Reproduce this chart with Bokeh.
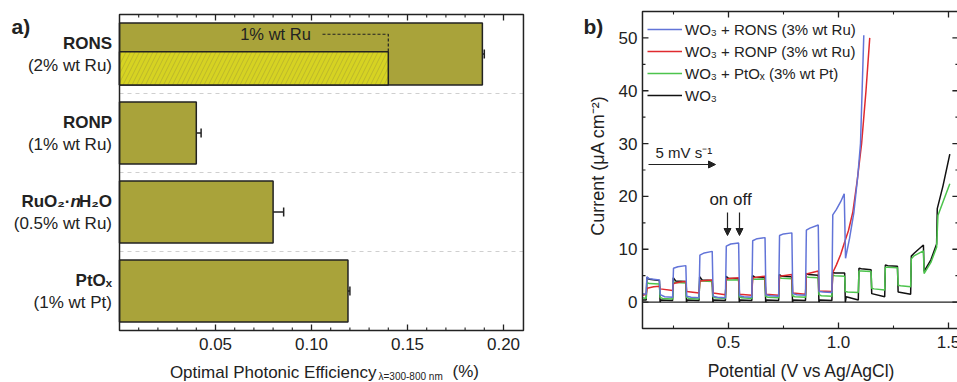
from bokeh.plotting import figure
from bokeh.layouts import row
from bokeh.models import (Range1d, Label, Whisker, ColumnDataSource, TeeHead, Arrow,
                          NormalHead, Legend, LegendItem)
from bokeh.embed import file_html
from bokeh.resources import INLINE
from bokeh.core.properties import value

FONT = "Liberation Sans"
INK = "#222222"

# ---------------- Panel a data ----------------
categories = ["RONS", "RONP", "RuO₂·nH₂O", "PtOₓ"]
loadings = ["(2% wt Ru)", "(1% wt Ru)", "(0.5% wt Ru)", "(1% wt Pt)"]
efficiency = [0.189, 0.040, 0.080, 0.119]
eff_error = [0.001, 0.0025, 0.0055, 0.001]
rons_1pct = 0.140
a_ticks = [0.05, 0.10, 0.15, 0.20]
a_tick_labels = ["0.05", "0.10", "0.15", "0.20"]
a_minor = [0.01, 0.02, 0.03, 0.04, 0.06, 0.07, 0.08, 0.09, 0.11, 0.12, 0.13,
           0.14, 0.16, 0.17, 0.18, 0.19]

# ---------------- Panel b data ----------------
b_xticks = [0.5, 1.0, 1.5]
b_xtick_labels = ["0.5", "1.0", "1.5"]
b_xminor = [0.25, 0.75, 1.25]
b_yticks = [0, 10, 20, 30, 40, 50]
b_ytick_labels = ["0", "10", "20", "30", "40", "50"]
b_yminor = [-5, 5, 15, 25, 35, 45, 55]

rons_v = [0.109, 0.126, 0.129, 0.140, 0.186, 0.190, 0.210, 0.246,
          0.250, 0.270, 0.306, 0.310, 0.330, 0.366,
          0.370, 0.390, 0.426, 0.430, 0.450, 0.486,
          0.490, 0.510, 0.546, 0.550, 0.570, 0.606,
          0.610, 0.630, 0.666, 0.670, 0.690, 0.728,
          0.732, 0.750, 0.788, 0.792, 0.810, 0.850,
          0.854, 0.870, 0.908, 0.912, 0.930, 0.970,
          0.974, 0.990, 1.010, 1.026, 1.032, 1.050, 1.070, 1.088, 1.100, 1.115]
rons_i = [1.6, 1.5, 4.8, 4.4, 4.2, 1.4, 1.0, 0.9,
          6.4, 6.7, 6.9, 1.1, 0.9, 0.8,
          8.9, 9.3, 9.6, 1.1, 0.9, 0.8,
          10.6, 11.0, 11.2, 1.2, 1.0, 0.9,
          11.6, 12.0, 12.2, 1.4, 1.2, 1.1,
          12.6, 12.9, 13.1, 1.6, 1.4, 1.3,
          13.6, 14.0, 14.6, 2.0, 1.9, 1.8,
          16.5, 17.5, 19.0, 20.5, 8.3, 12.0, 17.0, 24.0, 30.0, 50.5]

ronp_v = [0.109, 0.126, 0.130, 0.160, 0.186, 0.190, 0.246,
          0.250, 0.280, 0.306, 0.310, 0.366,
          0.370, 0.426, 0.430, 0.486,
          0.490, 0.546, 0.550, 0.606,
          0.610, 0.666, 0.670, 0.728,
          0.732, 0.788, 0.792, 0.850,
          0.854, 0.908, 0.912, 0.970,
          0.974, 0.990, 1.010, 1.025, 1.045, 1.065, 1.085, 1.105, 1.125, 1.142]
ronp_i = [1.3, 1.5, 2.6, 2.9, 3.0, 2.5, 2.2,
          3.5, 3.8, 3.9, 2.0, 1.7,
          4.0, 4.2, 1.7, 1.4,
          4.4, 4.6, 1.5, 1.3,
          4.6, 4.9, 1.5, 1.3,
          4.9, 5.2, 1.7, 1.5,
          5.3, 5.9, 2.1, 2.0,
          5.6, 7.0, 9.0, 11.0, 13.5, 17.0, 23.0, 30.0, 40.0, 50.0]

pto_v = [0.109, 0.126, 0.129, 0.140, 0.186, 0.189, 0.200,
         0.246, 0.249, 0.260, 0.306, 0.309, 0.320,
         0.366, 0.369, 0.380, 0.426, 0.429, 0.440,
         0.486, 0.489, 0.500, 0.546, 0.549, 0.560,
         0.606, 0.609, 0.620, 0.666, 0.669, 0.680,
         0.728, 0.731, 0.742, 0.788, 0.791, 0.802,
         0.850, 0.853, 0.864, 0.908, 0.911, 0.922,
         0.970, 0.973, 0.984, 1.028, 1.031, 1.042,
         1.090, 1.093, 1.104, 1.148, 1.151, 1.162,
         1.210, 1.213, 1.224, 1.268, 1.271, 1.282,
         1.328, 1.331, 1.345, 1.386, 1.389, 1.420, 1.446,
         1.452, 1.480, 1.506]
pto_i = [0.8, 0.7, 3.7, 3.5, 3.4, 0.9, 0.7,
         0.6, 3.8, 3.7, 3.6, 0.9, 0.7,
         0.6, 4.0, 4.0, 3.9, 1.0, 0.8,
         0.7, 4.3, 4.2, 4.2, 1.0, 0.8,
         0.7, 4.4, 4.3, 4.3, 1.1, 0.9,
         0.8, 4.6, 4.5, 4.4, 1.2, 1.0,
         0.9, 4.8, 4.7, 4.6, 1.4, 1.2,
         1.1, 5.1, 5.0, 4.9, 2.0, 1.9,
         1.8, 5.9, 5.9, 5.8, 2.6, 2.5,
         2.3, 6.6, 6.6, 6.5, 3.2, 3.1,
         2.9, 8.2, 8.8, 9.7, 5.4, 7.5, 10.4,
         16.4, 19.5, 22.4]

wo3_v = [0.109, 0.126, 0.129, 0.140, 0.186, 0.189, 0.193,
         0.246, 0.249, 0.260, 0.306, 0.309, 0.313,
         0.366, 0.369, 0.380, 0.426, 0.429, 0.433,
         0.486, 0.489, 0.500, 0.546, 0.549, 0.553,
         0.606, 0.609, 0.620, 0.666, 0.669, 0.673,
         0.728, 0.731, 0.742, 0.788, 0.791, 0.795,
         0.850, 0.853, 0.864, 0.908, 0.911, 0.915,
         0.970, 0.973, 0.984, 1.028, 1.031, 1.035,
         1.090, 1.093, 1.104, 1.148, 1.151, 1.210,
         1.213, 1.224, 1.268, 1.271, 1.328,
         1.331, 1.345, 1.386, 1.389, 1.420, 1.446,
         1.449, 1.475, 1.506]
wo3_i = [0.4, 0.4, 4.7, 4.3, 4.1, 0.0, 0.4,
         0.3, 4.6, 4.0, 3.9, 0.0, 0.4,
         0.3, 4.8, 4.2, 4.1, 0.0, 0.4,
         0.3, 4.9, 4.5, 4.4, 0.0, 0.4,
         0.3, 5.0, 4.7, 4.6, 0.0, 0.4,
         0.3, 5.2, 4.9, 4.8, 0.0, 0.4,
         0.3, 5.4, 5.2, 5.1, 0.0, 0.4,
         0.3, 5.6, 5.5, 5.5, 0.0, 1.0,
         0.4, 6.4, 6.3, 6.1, 1.6, 1.0,
         7.0, 6.9, 6.8, 1.9, 1.5,
         8.7, 9.3, 10.8, 5.8, 8.0, 11.0,
         17.7, 22.0, 28.0]

series_labels = ["WO₃ + RONS (3% wt Ru)", "WO₃ + RONP (3% wt Ru)",
                 "WO₃ + PtOₓ (3% wt Pt)", "WO₃"]
series_colors = ["#6274d8", "#e02a2e", "#4cc44c", "#111111"]

OLIVE = "#a9a33a"
HATCH_FILL = "#d6d322"


def txt(p, x, y, text, size="17px", style="normal", align="left",
        baseline="middle", angle=0.0, color=INK):
    p.add_layout(Label(x=x, y=y, text=text, text_font=FONT, text_font_size=size,
                       text_font_style=style, text_align=align,
                       text_baseline=baseline, angle=angle, text_color=color))


def bare(p):
    p.axis.visible = False
    p.grid.visible = False
    p.outline_line_color = None
    p.background_fill_color = "white"
    p.border_fill_color = "white"


# ====================== Panel a ======================
# pixel <-> data mapping of the plot box (box: x 119..523 px, y 14..330 px)
A_W, A_H = 556, 382
A_XMAX, A_YMAX = 0.2104, 4.0


def a_x(px):
    return (px - 119) / 1920.0


def a_y(py):
    return (330 - py) / 79.0


pa = figure(width=A_W, height=A_H, x_range=Range1d(a_x(0), a_x(A_W)),
            y_range=Range1d(a_y(A_H), a_y(0)), output_backend="svg",
            toolbar_location=None, min_border=0)
bare(pa)

n = len(categories)
ypos = [n - i - 0.5 for i in range(n)]
bar_h = 0.785
sep = list(range(1, n))

pa.segment(x0=[0] * len(sep), y0=sep, x1=[A_XMAX] * len(sep), y1=sep,
           line_color="#cfcfcf", line_dash="4 4", line_width=1)

pa.hbar(y=ypos, left=0, right=efficiency, height=bar_h, fill_color=OLIVE,
        line_color=INK, line_width=1.5)

sub_bottom = ypos[0] - bar_h / 2
sub_top = ypos[0] + 0.03
pa.hbar(y=[(sub_bottom + sub_top) / 2], left=0, right=[rons_1pct],
        height=sub_top - sub_bottom, fill_color=HATCH_FILL, line_color=INK,
        line_width=1.5, hatch_pattern="/", hatch_color="#b5b02c",
        hatch_scale=9, hatch_weight=0.8)

dash_y = ypos[0] + 0.25
pa.line(x=[a_x(322), rons_1pct, rons_1pct], y=[dash_y, dash_y, sub_top],
        line_color=INK, line_width=1.2, line_dash="3 2")
txt(pa, a_x(275), dash_y, "1% wt Ru", size="16.5px", align="center")

err_src = ColumnDataSource(dict(
    y=ypos,
    lo=[e - d for e, d in zip(efficiency, eff_error)],
    hi=[e + d for e, d in zip(efficiency, eff_error)]))
pa.add_layout(Whisker(source=err_src, base="y", lower="lo", upper="hi",
                      dimension="width", line_color=INK, line_width=1.5,
                      upper_head=TeeHead(size=9, line_color=INK, line_width=1.5),
                      lower_head=TeeHead(size=9, line_color=INK, line_width=1.5)))

# plot box with inward ticks (bottom + mirrored top)
pa.quad(left=[0], right=[A_XMAX], bottom=[0], top=[A_YMAX], fill_color=None,
        line_color=INK, line_width=1.5)
mj, mn = 6 / 79.0, 3 / 79.0
pa.segment(x0=a_ticks, y0=[0] * 4, x1=a_ticks, y1=[mj] * 4, line_color=INK, line_width=1.3)
pa.segment(x0=a_ticks, y0=[A_YMAX] * 4, x1=a_ticks, y1=[A_YMAX - mj] * 4,
           line_color=INK, line_width=1.3)
nm = len(a_minor)
pa.segment(x0=a_minor, y0=[0] * nm, x1=a_minor, y1=[mn] * nm, line_color=INK, line_width=1.1)
pa.segment(x0=a_minor, y0=[A_YMAX] * nm, x1=a_minor, y1=[A_YMAX - mn] * nm,
           line_color=INK, line_width=1.1)
pa.text(x=a_ticks, y=[a_y(337)] * 4, text=a_tick_labels, text_font=value(FONT),
        text_font_size="17px", text_align="center", text_baseline="top", text_color=INK)

# category labels
lab_x = a_x(111.5)
for i in range(n):
    yb = ypos[i] + 11 / 79.0
    yl = ypos[i] - 11 / 79.0
    if categories[i] == "RuO₂·nH₂O":
        txt(pa, lab_x, yb, "H₂O", style="bold", align="right")
        txt(pa, a_x(80.5), yb, "n", style="bold italic", align="right")
        txt(pa, a_x(70), yb, "RuO₂·", style="bold", align="right")
    else:
        txt(pa, lab_x, yb, categories[i], style="bold", align="right")
    txt(pa, lab_x, yl, loadings[i], align="right")

txt(pa, a_x(11), a_y(26), "a)", size="21px", style="bold")

# x axis title with subscript
txt(pa, a_x(376), a_y(372), "Optimal Photonic Efficiency", size="17px", align="right")
txt(pa, a_x(378), a_y(376), "λ=300-800 nm", size="10px", align="left")
txt(pa, a_x(452), a_y(371), "(%)", size="17px", align="left")

# ====================== Panel b ======================
# box: x 642..958 px (page), y 11..328 px; figure starts at page x 556
B_W, B_H = 401, 382
B_X0 = 556
B_XMIN, B_XMAX = 0.109, 1.545
B_YMIN, B_YMAX = -5.0, 55.0


def b_x(px):
    return 0.5 + (px - 728) / 220.0


def b_y(py):
    return 55.0 - (py - 11) * 60.0 / 317.0


pb = figure(width=B_W, height=B_H, x_range=Range1d(b_x(B_X0), b_x(B_X0 + B_W)),
            y_range=Range1d(b_y(B_H), b_y(0)), output_backend="svg",
            toolbar_location=None, min_border=0)
bare(pb)

pb.segment(x0=[B_XMIN], y0=[0], x1=[B_XMAX], y1=[0], line_color=INK, line_width=1.3)

xs = [rons_v, ronp_v, pto_v, wo3_v]
ys = [rons_i, ronp_i, pto_i, wo3_i]
renderers = [None] * 4
for k in [3, 2, 1, 0]:
    renderers[k] = pb.line(x=xs[k], y=ys[k], line_color=series_colors[k], line_width=1.5)

pb.quad(left=[B_XMIN], right=[B_XMAX], bottom=[B_YMIN], top=[B_YMAX], fill_color=None,
        line_color=INK, line_width=1.5)
xmj, xmn = 6 * 60.0 / 317.0, 3 * 60.0 / 317.0     # tick lengths along y (data)
ymj, ymn = 6 / 220.0, 3 / 220.0                   # tick lengths along x (data)
k1, k2 = len(b_xticks), len(b_xminor)
pb.segment(x0=b_xticks, y0=[B_YMIN] * k1, x1=b_xticks, y1=[B_YMIN + xmj] * k1,
           line_color=INK, line_width=1.3)
pb.segment(x0=b_xticks, y0=[B_YMAX] * k1, x1=b_xticks, y1=[B_YMAX - xmj] * k1,
           line_color=INK, line_width=1.3)
pb.segment(x0=b_xminor, y0=[B_YMIN] * k2, x1=b_xminor, y1=[B_YMIN + xmn] * k2,
           line_color=INK, line_width=1.1)
pb.segment(x0=b_xminor, y0=[B_YMAX] * k2, x1=b_xminor, y1=[B_YMAX - xmn] * k2,
           line_color=INK, line_width=1.1)
k3, k4 = len(b_yticks), len(b_yminor)
pb.segment(x0=[B_XMIN] * k3, y0=b_yticks, x1=[B_XMIN + ymj] * k3, y1=b_yticks,
           line_color=INK, line_width=1.3)
pb.segment(x0=[B_XMAX] * k3, y0=b_yticks, x1=[B_XMAX - ymj] * k3, y1=b_yticks,
           line_color=INK, line_width=1.3)
pb.segment(x0=[B_XMIN] * k4, y0=b_yminor, x1=[B_XMIN + ymn] * k4, y1=b_yminor,
           line_color=INK, line_width=1.1)
pb.segment(x0=[B_XMAX] * k4, y0=b_yminor, x1=[B_XMAX - ymn] * k4, y1=b_yminor,
           line_color=INK, line_width=1.1)
pb.text(x=b_xticks, y=[b_y(335)] * k1, text=b_xtick_labels, text_font=value(FONT),
        text_font_size="17px", text_align="center", text_baseline="top", text_color=INK)
pb.text(x=[b_x(637)] * k3, y=b_yticks, text=b_ytick_labels, text_font=value(FONT),
        text_font_size="17px", text_align="right", text_baseline="middle", text_color=INK)

legend = Legend(items=[LegendItem(label=series_labels[k], renderers=[renderers[k]])
                       for k in range(4)],
                location=(651 - B_X0 - 4, B_H - 11 - 94), margin=0, padding=4, spacing=2,
                label_height=20, glyph_height=20, glyph_width=35, label_standoff=3,
                label_text_font=FONT, label_text_font_size="15px",
                label_text_color=INK, border_line_color=None,
                background_fill_alpha=0)
pb.add_layout(legend)

txt(pb, b_x(583), b_y(26), "b)", size="21px", style="bold")
txt(pb, b_x(597), b_y(165), "Current (μA cm⁻²)", size="18px", align="center",
    angle=1.5707963)
txt(pb, b_x(801), b_y(370), "Potential (V vs Ag/AgCl)", size="17.5px", align="center")

txt(pb, b_x(655), b_y(152), "5 mV s⁻¹", size="15px")
pb.add_layout(Arrow(x_start=b_x(648), y_start=b_y(164), x_end=b_x(715), y_end=b_y(164),
                    line_color=INK, line_width=1.2,
                    end=NormalHead(size=7, fill_color=INK, line_color=INK)))
txt(pb, b_x(730), b_y(199), "on off", size="17px", align="center")
for px_ in [727, 739]:
    pb.add_layout(Arrow(x_start=b_x(px_), y_start=b_y(212), x_end=b_x(px_), y_end=b_y(235),
                        line_color=INK, line_width=1.2,
                        end=NormalHead(size=7, fill_color=INK, line_color=INK)))

layout = row(pa, pb)
layout.spacing = 0
open("out.html", "w").write(file_html(layout, INLINE))
